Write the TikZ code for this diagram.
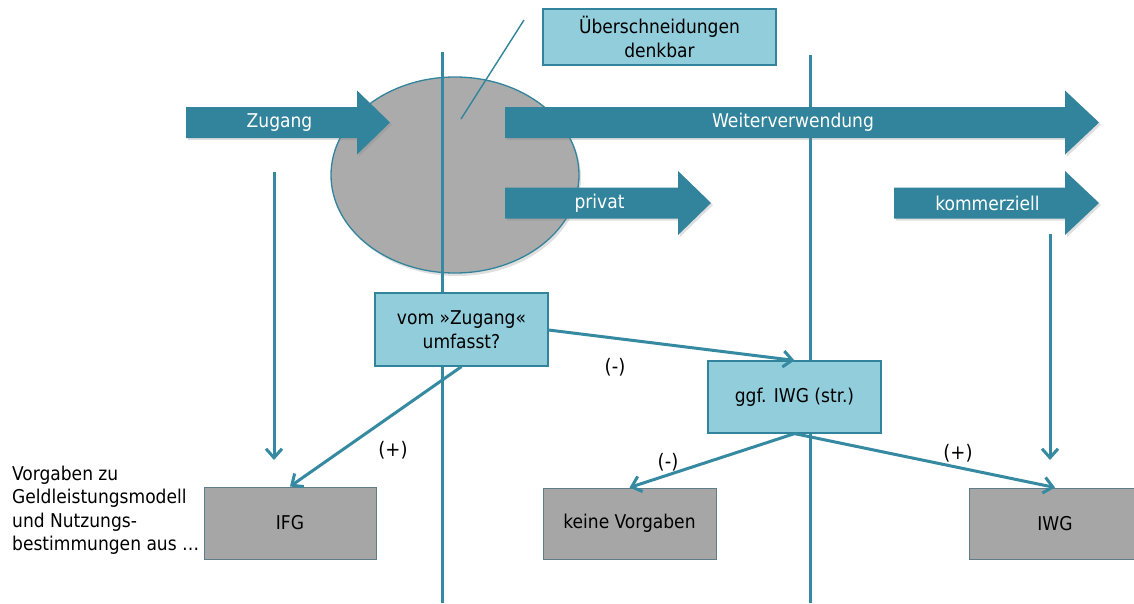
\documentclass[tikz,border=0pt]{standalone}
\usepackage{fontspec}
\setmainfont{DejaVu Sans Condensed}
\usetikzlibrary{arrows.meta,shadows}

\definecolor{arrowteal}{HTML}{31849B}
\definecolor{linkteal}{HTML}{358AA2}
\definecolor{paleblue}{HTML}{92CDDC}
\definecolor{boxgray}{HTML}{A6A6A6}
\definecolor{ovalgray}{HTML}{ABABAB}
\definecolor{grayedge}{HTML}{5E7D88}

\tikzset{
  basefont/.style={font=\fontsize{19}{23.5}\selectfont},
  arrowbody/.style={fill=arrowteal, drop shadow={opacity=0.25, shadow xshift=2pt, shadow yshift=-2pt}},
  arrowtext/.style={basefont, text=white, inner sep=0pt},
  lightbox/.style={basefont, draw=arrowteal, line width=1.2pt, fill=paleblue, align=center, inner sep=0pt},
  graybox/.style={basefont, draw=grayedge, line width=1pt, fill=boxgray, align=center, inner sep=0pt},
  divider/.style={draw=linkteal, line width=3pt},
  link/.style={draw=linkteal, line width=3pt, -{Straight Barb[length=9pt,width=16pt,line width=3pt]}},
  sign/.style={font=\fontsize{20}{24}\selectfont, inner sep=0pt},
}

% block arrow: name, left end, head base, tip, centre line, label
\newcommand\blockarrow[6]{%
  \fill[arrowbody] (#2,#5-15.5) -- (#3,#5-15.5) -- (#3,#5-32) -- (#4,#5)
     -- (#3,#5+32) -- (#3,#5+15.5) -- (#2,#5+15.5) -- cycle;
  \node[arrowtext] (#1) at ({(#2+#3)/2+8},#5) {#6};}

\begin{document}
\begin{tikzpicture}[x=1pt,y=-1pt]
\clip (0,0) rectangle (1134,603);
\fill[white] (0,0) rectangle (1134,603);

% overlap zone
\fill[ovalgray, draw=arrowteal, line width=1.3pt,
      drop shadow={opacity=0.25, shadow xshift=2pt, shadow yshift=-3pt}]
  (455,175) ellipse [x radius=124, y radius=98];

% callout pointer
\coordinate (c1) at (524,20);
\coordinate (c2) at (461,119);
\draw[arrowteal, line width=1.4pt] (c1) -- (c2);

% vertical dividers
\coordinate (d1top) at (442,52);
\coordinate (d1bot) at (442,603);
\coordinate (d2top) at (810,55);
\coordinate (d2bot) at (810,603);
\draw[divider] (d1top) -- (d1bot);
\draw[divider] (d2top) -- (d2bot);

% block arrows
\blockarrow{zugang}{186}{357}{390}{122.5}{Zugang}
\blockarrow{weiter}{505}{1065}{1099}{122.5}{Weiterverwendung}
\blockarrow{privat}{505}{678}{711}{203}{privat}
\blockarrow{kommerz}{894}{1065}{1099}{203}{kommerziell}

% boxes
\node[lightbox, minimum width=233pt, minimum height=56pt] (over) at (659.5,37)
  {Überschneidungen\\denkbar};
\node[lightbox, minimum width=173pt, minimum height=73pt] (vom) at (461.5,329.5)
  {vom »Zugang«\\umfasst?};
\node[lightbox, minimum width=173pt, minimum height=72pt] (ggf) at (794.5,397)
  {ggf. IWG (str.)};
\node[graybox, minimum width=172pt, minimum height=72pt] (ifg) at (290,523)
  {IFG};
\node[graybox, minimum width=173pt, minimum height=71pt] (keine) at (629.5,523.5)
  {keine Vorgaben};
\node[graybox, minimum width=172pt, minimum height=71pt] (iwg) at (1055,523.5)
  {IWG};

% side caption
\node[basefont, anchor=west, align=left, inner sep=0pt] (caption) at (12,510)
  {Vorgaben zu\\Geldleistungsmodell\\und Nutzungs-\\bestimmungen aus …};

% connectors
\coordinate (a1) at (274,172);
\coordinate (a2) at (274,460);
\coordinate (b1) at (1050,234);
\coordinate (b2) at (1050,460);
\draw[link] (a1) -- (a2);
\draw[link] (b1) -- (b2);
\draw[link] (vom.south) -- (ifg.north);
\draw[link] (vom.east |- 0,330) -- (ggf.north);
\draw[link] (ggf.south) -- (keine.north);
\draw[link] (ggf.south) -- (iwg.north);

% branch labels
\node[sign] (p1) at (393,450) {(+)};
\node[sign] (m1) at (615,367) {(-)};
\node[sign] (m2) at (668,462) {(-)};
\node[sign] (p2) at (958,453) {(+)};
\end{tikzpicture}
\end{document}
